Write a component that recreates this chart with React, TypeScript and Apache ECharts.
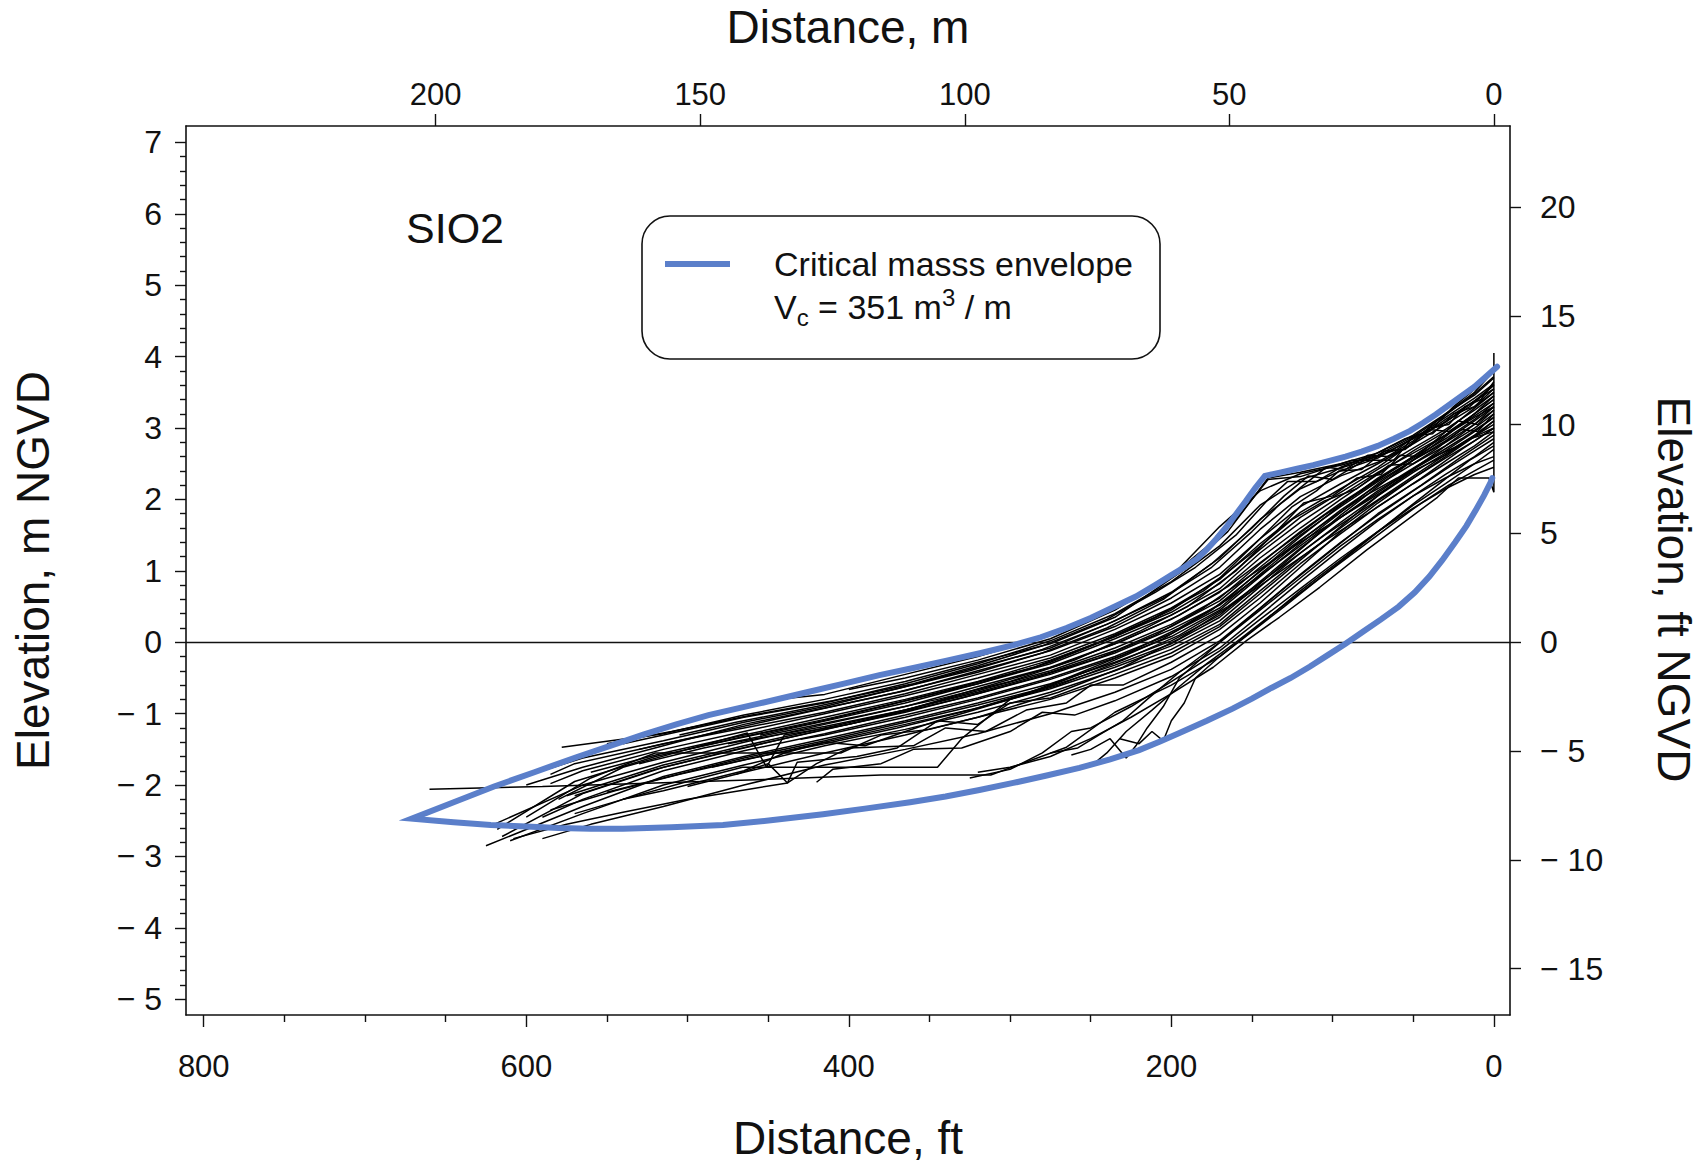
import React, { useEffect, useRef } from "react";
import * as echarts from "echarts";

// ---------- axis ticks / labels ----------
const FT_LABELS = [0, 200, 400, 600, 800];
const FT_MINOR = [50, 100, 150, 250, 300, 350, 450, 500, 550, 650, 700, 750];
const M_TOP_LABELS = [0, 50, 100, 150, 200];
const ELEV_M_LABELS = [-5, -4, -3, -2, -1, 0, 1, 2, 3, 4, 5, 6, 7];
const ELEV_M_MINOR = [
  -4.8, -4.6, -4.4, -4.2, -3.8, -3.6, -3.4, -3.2, -2.8, -2.6, -2.4, -2.2,
  -1.8, -1.6, -1.4, -1.2, -0.8, -0.6, -0.4, -0.2, 0.2, 0.4, 0.6, 0.8,
  1.2, 1.4, 1.6, 1.8, 2.2, 2.4, 2.6, 2.8, 3.2, 3.4, 3.6, 3.8,
  4.2, 4.4, 4.6, 4.8, 5.2, 5.4, 5.6, 5.8, 6.2, 6.4, 6.6, 6.8,
];
const ELEV_FT_LABELS = [-15, -10, -5, 0, 5, 10, 15, 20];

// axis extents (ft / m)
const FT_PER_M = 3.28084;
const X_MIN_FT = -10;
const X_MAX_FT = 811;
const Y_MIN_M = -5.22;
const Y_MAX_M = 7.23;

// ---------- critical mass envelope [ft, m] ----------
const ENV_UPPER = [
  [-2, 3.86], [5, 3.72], [12, 3.58], [20, 3.45], [28, 3.32], [36, 3.19], [44, 3.07],
  [52, 2.96], [62, 2.85], [72, 2.75], [82, 2.67], [92, 2.6], [102, 2.54], [112, 2.48],
  [122, 2.43], [132, 2.38], [142, 2.33], [148, 2.16], [154, 1.97], [160, 1.79],
  [166, 1.61], [172, 1.45], [178, 1.3], [184, 1.17], [192, 1.05], [200, 0.94],
  [210, 0.8], [222, 0.64], [236, 0.49], [250, 0.34], [265, 0.2], [281, 0.07],
  [298, -0.04], [318, -0.15], [340, -0.26], [360, -0.36], [381, -0.46], [403, -0.58],
  [426, -0.7], [456, -0.86], [487, -1.02], [507, -1.15], [527, -1.29], [548, -1.45],
  [569, -1.61], [595, -1.82], [620, -2.02], [645, -2.24], [671, -2.47],
];
const ENV_LOWER = [
  [671, -2.47], [645, -2.52], [622, -2.56], [600, -2.58], [580, -2.6], [560, -2.61],
  [540, -2.61], [510, -2.59], [478, -2.56], [447, -2.49], [416, -2.41], [390, -2.33],
  [362, -2.24], [340, -2.16], [319, -2.07], [298, -1.97], [278, -1.87], [257, -1.76],
  [238, -1.64], [220, -1.51], [207, -1.39], [195, -1.27], [178, -1.1], [162, -0.93],
  [150, -0.79], [138, -0.64], [126, -0.5], [114, -0.34], [103, -0.18], [92, -0.02],
  [81, 0.15], [70, 0.32], [59, 0.5], [49, 0.7], [40, 0.92], [32, 1.15], [24, 1.4],
  [17, 1.63], [11, 1.86], [6, 2.06], [2, 2.24], [1, 2.3],
];

// ---------- surveyed profiles [ft, m] ----------
const PROFILES = [
  [[0,3.72],[12,3.48],[30,3.18],[50,2.88],[72,2.62],[95,2.48],[120,2.36],[145,2.12],[170,1.62],[200,0.92],[235,0.48],[275,0.1],[320,-0.2],[365,-0.45],[415,-0.73],[445,-0.8]],
  [[0,3.8],[12,3.5],[30,3.2],[50,2.9],[72,2.65],[95,2.5],[120,2.38],[140,2.3],[165,1.55],[190,1.05],[235,0.35],[275,-0.02],[320,-0.28],[365,-0.55],[415,-0.8],[465,-1.02],[515,-1.28],[578,-1.47]],
  [[0,3.62],[12,3.42],[30,3.15],[50,2.85],[72,2.6],[95,2.44],[120,2.28],[145,1.92],[170,1.35],[200,0.85],[235,0.4],[275,0.02],[320,-0.3],[365,-0.58],[415,-0.85],[465,-1.05],[515,-1.3],[540,-1.42]],
  [[0,3.55],[12,3.38],[30,3.08],[50,2.86],[72,2.58],[95,2.4],[120,2.15],[145,1.72],[170,1.18],[200,0.7],[235,0.3],[275,-0.08],[320,-0.35],[365,-0.62],[415,-0.9],[465,-1.12],[515,-1.38],[565,-1.62],[590,-1.8]],
  [[0,3.7],[12,3.46],[30,3.2],[50,2.82],[72,2.52],[95,2.33],[120,2.04],[145,1.58],[170,1.05],[200,0.62],[235,0.22],[275,-0.12],[320,-0.4],[365,-0.68],[415,-0.92],[465,-1.15],[515,-1.45],[565,-1.75],[600,-2.0]],
  [[0,3.5],[12,3.3],[30,3.05],[50,2.78],[72,2.5],[95,2.22],[120,1.9],[145,1.45],[170,0.95],[200,0.55],[235,0.18],[275,-0.18],[320,-0.45],[365,-0.72],[415,-0.98],[465,-1.2],[515,-1.42],[530,-1.5]],
  [[0,3.6],[12,3.38],[30,3.12],[50,2.8],[72,2.45],[95,2.15],[120,1.82],[145,1.38],[170,0.88],[200,0.48],[235,0.12],[275,-0.22],[320,-0.5],[365,-0.75],[415,-1.0],[465,-1.25],[515,-1.5],[565,-1.8],[585,-1.98]],
  [[0,3.45],[12,3.25],[30,2.98],[50,2.72],[72,2.42],[95,2.1],[120,1.75],[145,1.3],[170,0.82],[200,0.42],[235,0.08],[275,-0.25],[320,-0.55],[365,-0.8],[415,-1.05],[465,-1.3],[515,-1.55],[560,-1.82]],
  [[0,3.3],[12,3.15],[30,2.9],[50,2.65],[72,2.38],[95,2.05],[120,1.68],[145,1.25],[170,0.75],[200,0.38],[235,0.05],[275,-0.3],[320,-0.58],[365,-0.82],[415,-1.08],[465,-1.32],[500,-1.5]],
  [[0,3.5],[12,3.28],[30,2.95],[50,2.68],[72,2.35],[95,2.0],[120,1.6],[145,1.18],[170,0.7],[200,0.32],[235,-0.02],[275,-0.35],[320,-0.62],[365,-0.9],[415,-1.15],[465,-1.4],[515,-1.68],[565,-2.0],[620,-2.55]],
  [[0,3.35],[12,3.12],[30,2.85],[50,2.58],[72,2.28],[95,1.95],[120,1.55],[145,1.1],[170,0.62],[200,0.25],[235,-0.08],[275,-0.4],[320,-0.68],[365,-0.95],[415,-1.2],[465,-1.45],[515,-1.72],[575,-2.15]],
  [[0,3.25],[12,3.05],[30,2.8],[50,2.55],[72,2.25],[95,1.9],[120,1.5],[145,1.05],[170,0.58],[200,0.22],[235,-0.12],[275,-0.42],[320,-0.7],[365,-0.95],[415,-1.18],[465,-1.38],[475,-1.42]],
  [[0,3.4],[12,3.2],[30,2.9],[50,2.6],[72,2.3],[95,1.92],[120,1.48],[145,1.0],[170,0.52],[200,0.18],[235,-0.15],[275,-0.45],[320,-0.72],[365,-0.98],[415,-1.22],[465,-1.48],[515,-1.75],[565,-2.12],[615,-2.72]],
  [[0,3.2],[12,3.0],[30,2.75],[50,2.5],[72,2.2],[95,1.85],[120,1.42],[145,0.95],[170,0.48],[200,0.12],[235,-0.2],[275,-0.5],[320,-0.78],[365,-1.02],[415,-1.28],[465,-1.52],[515,-1.8],[565,-2.2],[590,-2.45]],
  [[0,3.3],[12,3.1],[30,2.82],[50,2.55],[72,2.22],[95,1.82],[120,1.38],[145,0.92],[170,0.45],[200,0.08],[235,-0.22],[275,-0.52],[320,-0.8],[365,-1.05],[415,-1.3],[430,-1.36]],
  [[0,3.15],[12,2.95],[30,2.68],[50,2.42],[72,2.12],[95,1.75],[120,1.32],[145,0.85],[170,0.38],[200,0.02],[235,-0.28],[275,-0.58],[320,-0.85],[365,-1.1],[415,-1.35],[465,-1.6],[515,-1.88],[565,-2.3],[625,-2.85]],
  [[0,3.45],[12,3.2],[30,2.88],[50,2.55],[72,2.18],[95,1.78],[120,1.3],[145,0.82],[170,0.35],[200,-0.02],[235,-0.32],[275,-0.62],[320,-0.88],[365,-1.12],[415,-1.38],[465,-1.62],[515,-1.9],[550,-2.1]],
  [[0,3.1],[12,2.9],[30,2.65],[50,2.38],[72,2.05],[95,1.68],[120,1.25],[145,0.78],[170,0.3],[200,-0.05],[235,-0.35],[275,-0.65],[320,-0.92],[365,-1.15],[415,-1.4],[465,-1.65],[485,-1.75]],
  [[0,3.0],[12,2.82],[30,2.58],[50,2.3],[72,1.98],[95,1.6],[120,1.18],[145,0.72],[170,0.25],[200,-0.1],[235,-0.4],[275,-0.7],[320,-0.98],[365,-1.22],[415,-1.45],[465,-1.72],[515,-2.0],[565,-2.4],[610,-2.78]],
  [[0,3.3],[12,3.05],[30,2.75],[50,2.42],[72,2.05],[95,1.62],[120,1.15],[145,0.68],[170,0.22],[200,-0.15],[235,-0.45],[275,-0.78],[300,-0.85],[320,-1.15],[345,-1.1],[365,-1.25],[390,-1.45],[415,-1.4],[440,-1.55],[465,-1.8],[515,-2.08],[540,-2.2]],
  [[0,2.95],[12,2.75],[30,2.5],[50,2.22],[72,1.9],[95,1.52],[120,1.1],[145,0.62],[170,0.18],[200,-0.2],[235,-0.5],[275,-0.8],[320,-1.05],[365,-1.3],[415,-1.55],[465,-1.82],[500,-2.02]],
  [[0,3.1],[12,2.88],[30,2.6],[50,2.3],[72,1.95],[95,1.55],[120,1.05],[145,0.55],[170,0.1],[200,-0.28],[230,-0.6],[250,-0.6],[265,-0.85],[290,-0.95],[315,-1.25],[340,-1.2],[360,-1.45],[400,-1.48],[420,-1.7],[438,-1.97],[450,-1.7],[470,-1.85]],
  [[0,2.85],[12,2.68],[30,2.42],[50,2.12],[72,1.78],[95,1.4],[120,0.95],[145,0.48],[170,0.02],[200,-0.38],[235,-0.7],[275,-1.0],[320,-1.28],[365,-1.5],[415,-1.72],[465,-2.0],[515,-2.3],[560,-2.55],[590,-2.75]],
  [[0,2.8],[12,2.6],[30,2.35],[50,2.05],[72,1.7],[95,1.3],[120,0.85],[145,0.38],[170,-0.08],[200,-0.48],[235,-0.82],[260,-1.02],[280,-0.98],[300,-1.25],[330,-1.48],[360,-1.5],[380,-1.7],[410,-1.78],[420,-1.96]],
  [[0,2.7],[12,2.5],[30,2.22],[50,1.92],[72,1.55],[95,1.15],[120,0.72],[145,0.25],[170,-0.2],[200,-0.6],[235,-0.98],[265,-1.47],[312,-1.86],[380,-1.86],[450,-1.92],[520,-1.97],[590,-2.02],[660,-2.06]],
  [[0,4.05],[0,2.1],[3,2.3],[22,2.3],[35,2.03],[54,1.71],[79,1.29],[108,0.77],[133,0.35],[153,0.03],[174,-0.35],[200,-0.72],[225,-1.05],[250,-1.35],[275,-1.6],[300,-1.75],[320,-1.82]],
  [[0,2.45],[12,2.35],[30,2.15],[50,1.88],[72,1.55],[95,1.18],[120,0.75],[145,0.32],[170,-0.12],[200,-0.55],[225,-0.9],[250,-1.2],[262,-1.25],[280,-1.55],[300,-1.78],[325,-1.9]],
  [[0,2.6],[12,2.5],[30,2.3],[50,2.05],[72,1.72],[95,1.35],[120,0.9],[145,0.45],[170,0.0],[195,-0.42],[215,-0.8],[230,-1.1],[245,-1.3],[258,-1.48],[275,-1.55]],
  [[0,2.9],[20,2.6],[45,2.2],[72,1.8],[100,1.3],[125,0.85],[150,0.38],[175,-0.1],[195,-0.5],[205,-0.9],[215,-1.2],[222,-1.45],[228,-1.62],[238,-1.35],[250,-1.5],[262,-1.58]],
  [[0,3.6],[15,3.3],[35,3.02],[50,2.88],[62,2.55],[88,2.55],[120,2.32],[140,2.28],[160,1.72],[180,1.3],[200,0.93],[235,0.45],[275,0.05],[320,-0.25],[365,-0.5],[400,-0.66]],
  [[0,3.8],[10,3.58],[25,3.3],[40,2.95],[55,2.85],[75,2.62],[95,2.45],[110,2.25],[128,2.25],[140,2.0],[160,1.5],[185,1.05],[210,0.7],[240,0.32],[280,-0.05],[320,-0.33],[360,-0.58],[410,-0.82],[460,-1.02],[510,-1.25],[550,-1.42]],
  [[0,3.55],[12,3.3],[25,3.2],[38,2.92],[48,2.9],[60,2.7],[80,2.55],[100,2.28],[115,2.33],[130,2.05],[150,1.6],[175,1.1],[205,0.6],[240,0.2],[280,-0.15],[320,-0.42],[370,-0.7],[420,-0.95],[470,-1.2],[520,-1.45],[570,-1.7],[585,-1.85]],
  [[0,3.2],[10,2.95],[20,2.98],[35,2.72],[50,2.5],[65,2.48],[85,2.15],[105,1.98],[125,1.72],[150,1.25],[180,0.72],[210,0.35],[245,0.0],[285,-0.35],[330,-0.62],[375,-0.88],[420,-1.12],[470,-1.35],[520,-1.6],[570,-1.95],[618,-2.62]],
  [[0,2.95],[15,2.85],[30,2.62],[50,2.4],[70,2.1],[95,1.75],[120,1.4],[150,0.95],[180,0.48],[210,0.1],[245,-0.22],[285,-0.5],[330,-0.78],[375,-1.02],[420,-1.25],[470,-1.5],[520,-1.78],[570,-2.15]],
  [[0,3.0],[20,2.7],[45,2.3],[75,1.85],[105,1.42],[135,0.95],[165,0.48],[195,0.05],[230,-0.35],[270,-0.7],[320,-1.05],[350,-1.22],[380,-1.3],[405,-1.55],[460,-1.55],[520,-1.55],[560,-1.9],[600,-2.45]],
  [[0,3.15],[20,2.85],[45,2.5],[75,2.05],[105,1.6],[135,1.1],[165,0.6],[195,0.2],[230,-0.18],[270,-0.55],[300,-0.8],[330,-1.35],[345,-1.75],[400,-1.75],[466,-1.75],[500,-1.95],[540,-2.2],[570,-2.4]],
  [[0,3.35],[20,3.05],[45,2.68],[75,2.22],[105,1.78],[135,1.28],[165,0.78],[195,0.38],[230,0.02],[270,-0.32],[315,-0.62],[360,-0.92],[400,-1.15],[440,-1.3],[451,-1.75],[463,-1.27],[500,-1.5],[540,-1.75],[580,-2.2]],
  [[0,3.05],[20,2.78],[45,2.4],[75,1.95],[105,1.5],[135,1.0],[165,0.5],[195,0.1],[230,-0.25],[270,-0.6],[315,-0.9],[345,-1.1],[370,-1.48],[395,-1.6],[432,-1.68],[438,-1.97],[460,-2.05],[500,-2.2],[540,-2.38],[575,-2.55],[608,-2.75]],
  [[0,3.25],[10,3.05],[22,3.1],[35,2.85],[48,2.6],[58,2.62],[70,2.35],[85,2.3],[100,2.05],[118,1.95],[135,1.55],[160,1.0],[190,0.5],[220,0.15],[260,-0.25],[300,-0.55],[345,-0.8],[390,-1.02],[440,-1.25],[490,-1.48],[530,-1.7]],
  [[0,3.4],[15,3.15],[28,2.95],[40,2.98],[55,2.7],[68,2.68],[82,2.42],[96,2.4],[110,2.12],[125,1.9],[145,1.45],[170,0.9],[200,0.45],[235,0.08],[275,-0.28],[320,-0.58],[365,-0.85],[410,-1.08],[455,-1.3]],
  [[0,2.75],[15,2.55],[35,2.2],[55,1.85],[80,1.4],[105,0.95],[130,0.5],[150,0.15],[170,-0.2],[185,-0.5],[192,-0.85],[200,-1.1],[205,-1.38],[212,-1.25],[220,-1.42],[232,-1.35]],
  [[0,2.55],[12,2.4],[28,2.2],[45,1.95],[65,1.62],[90,1.2],[115,0.78],[140,0.35],[160,0.0],[178,-0.3],[195,-0.62],[212,-0.95],[228,-1.25],[240,-1.55],[248,-1.7]],
  [[0,3.65],[8,3.4],[18,3.3],[28,3.05],[40,3.0],[52,2.75],[66,2.6],[78,2.62],[92,2.42],[104,2.45],[118,2.2],[132,1.95],[150,1.55],[175,1.05],[205,0.62],[240,0.25],[280,-0.1],[325,-0.4],[370,-0.65],[420,-0.9],[470,-1.12],[505,-1.3]],
  [[0,3.0],[10,2.9],[25,2.72],[42,2.55],[60,2.3],[80,2.05],[100,1.75],[125,1.35],[150,0.9],[175,0.45],[205,0.05],[240,-0.3],[280,-0.65],[325,-0.95],[370,-1.2],[415,-1.42],[460,-1.62],[505,-1.85],[545,-2.08],[585,-2.35]],
];

const BLUE = "#5b7fca";
const INK = "#111";
const FONT = "'Liberation Sans', Arial, Helvetica, sans-serif";
const fmtNeg = (v: number) => (v < 0 ? "\u2212 " + Math.abs(v) : String(v));

export default function App() {
  const ref = useRef<HTMLDivElement>(null);

  useEffect(() => {
    if (!ref.current) return;
    const chart = echarts.init(ref.current, null, { renderer: "svg" });

    const axisLine = { show: true, onZero: false, lineStyle: { color: INK, width: 1.6 } };
    const tickStyle = { color: INK, width: 1.4 };
    const labelBase = { color: INK, fontFamily: FONT };
    const nameStyle = { color: INK, fontFamily: FONT, fontSize: 46, lineHeight: 46 };

    const profileSeries = PROFILES.map((p, i) => ({
      name: "profile " + (i + 1),
      type: "line",
      xAxisIndex: 0,
      yAxisIndex: 0,
      data: p,
      symbol: "none",
      showSymbol: false,
      silent: true,
      z: 2,
      lineStyle: { color: "#000", width: 1.5 },
    }));

    const option: any = {
      animation: false,
      backgroundColor: "#fff",
      grid: { left: 186, right: 194, top: 126, bottom: 150, containLabel: false, outerBoundsMode: "none" },
      xAxis: [
        {
          type: "value", position: "bottom", inverse: true, min: X_MIN_FT, max: X_MAX_FT,
          axisLine, splitLine: { show: false },
          axisTick: { show: true, customValues: FT_LABELS, length: 12, lineStyle: tickStyle },
          axisLabel: { ...labelBase, customValues: FT_LABELS, fontSize: 31, margin: 36 },
          name: "Distance, ft", nameLocation: "middle", nameGap: 100, nameTextStyle: nameStyle,
        },
        {
          type: "value", position: "top", inverse: true,
          min: X_MIN_FT / FT_PER_M, max: X_MAX_FT / FT_PER_M,
          axisLine, splitLine: { show: false },
          axisTick: { show: true, customValues: M_TOP_LABELS, length: 12, lineStyle: tickStyle },
          axisLabel: { ...labelBase, customValues: M_TOP_LABELS, fontSize: 31, margin: 16 },
          name: "Distance, m", nameLocation: "middle", nameGap: 76, nameTextStyle: nameStyle,
        },
        {
          type: "value", position: "bottom", inverse: true, min: X_MIN_FT, max: X_MAX_FT,
          axisLine: { show: false, onZero: false }, splitLine: { show: false },
          axisTick: { show: true, customValues: FT_MINOR, length: 7, lineStyle: tickStyle },
          axisLabel: { show: false },
        },
      ],
      yAxis: [
        {
          type: "value", position: "left", min: Y_MIN_M, max: Y_MAX_M,
          axisLine, splitLine: { show: false },
          axisTick: { show: true, customValues: ELEV_M_LABELS, length: 11, lineStyle: tickStyle },
          axisLabel: { ...labelBase, customValues: ELEV_M_LABELS, fontSize: 32, margin: 24, formatter: fmtNeg },
          name: "Elevation, m NGVD", nameLocation: "middle", nameRotate: 90, nameGap: 130, nameTextStyle: nameStyle,
        },
        {
          type: "value", position: "right", min: Y_MIN_M * FT_PER_M, max: Y_MAX_M * FT_PER_M,
          axisLine, splitLine: { show: false },
          axisTick: { show: true, customValues: ELEV_FT_LABELS, length: 11, lineStyle: tickStyle },
          axisLabel: { ...labelBase, customValues: ELEV_FT_LABELS, fontSize: 32, margin: 30, formatter: fmtNeg },
          name: "Elevation, ft NGVD", nameLocation: "middle", nameRotate: -90, nameGap: 141,
          nameTextStyle: { ...nameStyle, padding: [0, 0, 0, 38] },
        },
        {
          type: "value", position: "left", min: Y_MIN_M, max: Y_MAX_M,
          axisLine: { show: false, onZero: false }, splitLine: { show: false },
          axisTick: { show: true, customValues: ELEV_M_MINOR, length: 6, lineStyle: tickStyle },
          axisLabel: { show: false },
        },
      ],
      series: [
        {
          name: "zero",
          type: "line",
          xAxisIndex: 0,
          yAxisIndex: 0,
          data: [],
          silent: true,
          markLine: {
            silent: true,
            symbol: ["none", "none"],
            label: { show: false },
            lineStyle: { color: INK, width: 1.3, type: "solid" },
            data: [{ yAxis: 0 }],
          },
        },
        ...profileSeries,
        {
          name: "Critical masss envelope",
          type: "line",
          xAxisIndex: 0,
          yAxisIndex: 0,
          data: [...ENV_UPPER, ...ENV_LOWER.slice(1)],
          symbol: "none",
          showSymbol: false,
          silent: true,
          z: 5,
          lineStyle: { color: BLUE, width: 6, join: "miter", miterLimit: 20, cap: "round" },
        },
      ],
      graphic: [
        {
          type: "text", left: 406, top: 206, z: 20,
          style: { text: "SIO2", font: "43px 'Liberation Sans', Arial, sans-serif", fill: INK },
        },
        {
          type: "rect", z: 20,
          shape: { x: 642, y: 216, width: 518, height: 143, r: 28 },
          style: { fill: "#fff", stroke: INK, lineWidth: 1.6 },
        },
        {
          type: "line", z: 21,
          shape: { x1: 665, y1: 264, x2: 730, y2: 264 },
          style: { stroke: BLUE, lineWidth: 6 },
        },
        {
          type: "text", x: 774, y: 264, z: 21,
          style: {
            text: "Critical masss envelope",
            font: "34px 'Liberation Sans', Arial, sans-serif",
            fill: INK, verticalAlign: "middle",
          },
        },
        {
          type: "text", x: 774, y: 307, z: 21,
          style: {
            text: "{n|V}{s|c}{n| = 351 m}{p|3}{n| / m}",
            fill: INK,
            verticalAlign: "middle",
            rich: {
              n: { fontSize: 34, fontFamily: FONT, fill: INK, lineHeight: 44 },
              s: { fontSize: 24, fontFamily: FONT, fill: INK, lineHeight: 44, verticalAlign: "bottom" },
              p: { fontSize: 24, fontFamily: FONT, fill: INK, lineHeight: 44, verticalAlign: "top" },
            },
          },
        },
      ],
    };

    chart.setOption(option);
    return () => chart.dispose();
  }, []);

  return (
    <div
      ref={ref}
      style={{ position: "absolute", left: 0, top: 0, width: 1704, height: 1165, background: "#fff" }}
    />
  );
}
